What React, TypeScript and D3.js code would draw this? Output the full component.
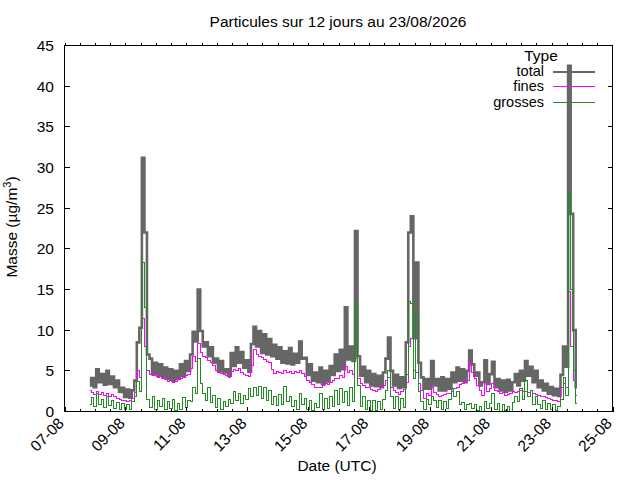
import { useEffect, useRef } from 'react'
import * as d3 from 'd3'

const title = "Particules sur 12 jours au 23/08/2026"
const xLabel = "Date (UTC)"
const legendTitle = "Type"
const seriesNames = ["total", "fines", "grosses"]
const seriesColors = ["#666666", "#ff00ff", "#228b22"]

// first sample 07/08 20:00 UTC, one sample every 2 hours
const startTime = Date.UTC(2026, 7, 7, 20)
const stepHours = 2

const total = [
  3.2, 4.1, 3.0, 5.2, 3.6, 4.6, 3.3, 5.0, 3.4, 4.3, 3.0, 3.8, 2.4, 2.9, 1.8, 2.7, 1.7, 2.6, 3.8, 8.5, 10.3, 31.2, 22.0, 7.0,
  6.5, 4.6, 6.0, 4.4, 5.8, 4.2, 5.4, 4.0, 5.2, 3.8, 5.0, 4.0, 5.8, 4.4, 6.2, 5.0, 7.0, 9.8, 8.6, 15.0, 9.9, 8.0,
  8.5, 6.8, 7.9, 6.0, 6.5, 5.0, 6.2, 4.8, 5.2, 4.4, 7.2, 5.6, 7.9, 6.0, 7.3, 5.4, 6.3, 4.9, 8.3, 10.4, 8.0, 9.9,
  7.2, 9.5, 7.0, 8.9, 6.8, 8.2, 6.5, 7.9, 6.0, 7.4, 5.9, 7.8, 5.8, 7.1, 6.0, 8.6, 6.5, 6.6, 4.5, 5.8, 3.8, 4.8,
  3.6, 5.4, 3.4, 5.0, 3.7, 5.6, 4.5, 7.0, 5.0, 7.6, 5.2, 12.8, 6.4, 8.0, 6.2, 22.2, 6.8, 4.4, 5.5, 3.6, 5.0, 3.2,
  4.6, 3.1, 4.4, 3.0, 4.8, 6.5, 9.1, 5.0, 3.2, 4.5, 2.9, 4.2, 3.0, 8.5, 22.0, 24.0, 9.0, 18.3, 6.0, 4.2, 2.8, 4.0,
  2.8, 6.2, 3.2, 4.0, 2.6, 4.2, 2.6, 4.0, 2.8, 4.8, 3.6, 5.4, 3.8, 5.2, 3.6, 5.0, 7.5, 5.8, 4.4, 4.8, 3.2, 3.6,
  6.3, 3.4, 4.6, 6.1, 3.0, 4.0, 2.6, 3.8, 2.4, 3.9, 2.6, 3.6, 4.6, 3.2, 5.0, 3.8, 6.2, 4.4, 5.5, 3.6, 5.0, 3.0,
  3.8, 2.6, 3.4, 2.2, 3.0, 2.0, 2.8, 1.9, 4.5, 8.0, 5.5, 42.5, 24.3, 10.0, 3.0,
]

const fines = [
  2.6, 2.3, 2.1, 2.4, 2.1, 2.3, 2.0, 2.2, 1.9, 2.1, 1.8, 1.6, 1.5, 1.3, 1.4, 1.2, 1.4, 1.6, 2.3, 5.0, 4.2, 11.4, 8.0, 5.0,
  4.6, 4.4, 4.5, 4.2, 4.3, 4.0, 3.9, 3.7, 3.8, 3.6, 3.7, 3.9, 4.1, 4.2, 4.4, 4.6, 5.3, 6.8, 6.2, 8.4, 7.2, 6.8,
  6.6, 6.3, 6.0, 5.6, 5.0, 4.8, 4.7, 4.6, 4.4, 4.2, 4.9, 5.2, 5.0, 5.3, 4.8, 4.6, 4.4, 4.3, 5.6, 7.6, 7.0, 6.8,
  6.6, 6.4, 6.2, 6.0, 5.2, 4.7, 4.9, 4.8, 4.7, 5.0, 4.8, 4.9, 4.7, 4.9, 4.8, 5.1, 4.7, 4.3, 3.8, 3.6, 3.3, 3.0,
  3.0, 2.9, 3.2, 3.4, 3.3, 3.6, 3.8, 4.0, 4.0, 4.4, 4.2, 5.5, 4.8, 5.0, 4.6, 6.5, 4.0, 3.4, 3.2, 3.0, 2.9, 2.7,
  2.6, 2.5, 2.7, 2.9, 3.2, 3.8, 4.2, 3.0, 2.6, 2.3, 2.1, 2.4, 2.7, 3.6, 8.0, 9.0, 5.0, 4.8, 3.4, 2.6, 1.6, 2.2,
  2.0, 2.9, 2.3, 2.1, 1.9, 2.0, 2.1, 2.2, 2.2, 2.5, 2.8, 2.9, 3.3, 3.5, 3.7, 3.8, 6.0, 4.8, 4.0, 3.2, 2.6, 2.0,
  3.6, 2.5, 2.8, 3.4, 2.6, 2.4, 2.2, 2.3, 2.0, 2.1, 2.2, 2.4, 2.3, 2.5, 2.6, 2.4, 2.5, 2.3, 2.6, 2.2, 2.1, 2.0,
  1.9, 1.8, 1.7, 1.6, 1.5, 1.4, 1.3, 1.2, 2.9, 3.5, 3.0, 14.8, 8.0, 3.8, 2.0,
]

const grosses = [
  0.8, 1.7, 0.6, 2.2, 0.9, 1.5, 0.5, 1.8, 0.7, 1.3, 0.4, 1.1, 0.2, 1.0, 0.3, 0.9, 0.2, 1.2, 1.8, 3.7, 2.5, 18.3, 12.8, 1.5,
  0.5, 1.8, 0.3, 1.4, 0.6, 1.6, 0.2, 1.2, 0.4, 1.5, 0.1, 1.0, 0.3, 1.7, 0.5, 1.4, 1.2, 2.9, 2.2, 6.5, 3.4, 2.2,
  1.4, 3.0, 1.1, 2.0, 0.5, 1.6, 0.3, 1.2, 0.6, 1.5, 1.0, 2.4, 1.3, 2.2, 1.0, 2.0, 1.5, 2.8, 1.8, 3.0, 2.0, 3.1,
  1.6, 2.9, 1.4, 2.6, 0.9, 1.8, 0.7, 2.1, 0.8, 3.1, 1.2, 1.9, 0.6, 1.4, 0.3, 2.2, 0.9, 1.6, 0.2, 1.3, 0.1, 1.0,
  0.5, 2.2, 0.2, 1.6, 0.4, 1.9, 0.6, 2.6, 0.9, 2.8, 1.1, 2.5, 0.7, 2.9, 1.2, 13.4, 3.2, 0.6, 1.8, 0.2, 1.3, 0.1,
  1.4, 0.1, 1.2, 0.3, 1.5, 2.6, 5.0, 1.8, 0.4, 1.9, 0.2, 1.6, 0.5, 4.5, 13.5, 13.3, 4.0, 12.0, 2.5, 1.2, 0.3, 1.5,
  0.9, 1.8, 1.3, 0.5, 1.4, 0.3, 1.2, 0.4, 1.5, 2.8, 1.9, 2.5, 0.8, 1.1, 0.3, 0.9, 1.0, 0.4, 0.8, 0.1, 0.6, 0.0,
  1.2, 0.4, 1.0, 2.2, 0.2, 1.0, 0.0, 0.8, 0.1, 0.6, 0.0, 1.1, 1.8, 1.2, 2.8, 1.5, 3.8, 1.9, 2.6, 0.9, 1.8, 0.8,
  0.4, 1.4, 0.3, 1.0, 0.2, 0.9, 0.1, 0.6, 1.5, 4.2, 2.0, 27.0, 15.0, 5.0, 1.0,
]

const yTicks = [0, 5, 10, 15, 20, 25, 30, 35, 40, 45]

const WIDTH = 640
const HEIGHT = 480
const FONT = "'Liberation Sans', Arial, sans-serif"

export default function App() {
  const svgRef = useRef<SVGSVGElement>(null)

  useEffect(() => {
    if (!svgRef.current) return
    const svg = d3.select(svgRef.current)
    svg.selectAll("*").remove()

    const left = 64.5, right = 612.5, top = 45.5, bottom = 411.5

    const x = d3.scaleUtc()
      .domain([new Date(Date.UTC(2026, 7, 7)), new Date(Date.UTC(2026, 7, 25))])
      .range([left, right])
    const y = d3.scaleLinear().domain([0, 45]).range([bottom, top])

    const times = total.map((_, i) => new Date(startTime + i * stepHours * 3600 * 1000))
    const series = [total, fines, grosses]

    svg.append("rect")
      .attr("width", WIDTH).attr("height", HEIGHT).attr("fill", "white")

    // data, drawn as steps; the thick total line closes up into a band
    series.forEach((values, k) => {
      const line = d3.line<number>()
        .x((_, i) => x(times[i]))
        .y(d => y(d))
        .curve(d3.curveStep)
      svg.append("path")
        .datum(values)
        .attr("d", line)
        .attr("fill", "none")
        .attr("stroke", seriesColors[k])
        .attr("stroke-width", k === 0 ? 2.6 : 1)
        .attr("shape-rendering", k === 0 ? "auto" : "crispEdges")
    })

    // ticks
    const ticks = svg.append("g")
      .attr("stroke", "black").attr("stroke-width", 1)
      .attr("shape-rendering", "crispEdges")

    const majorX = d3.utcDay.range(x.domain()[0], new Date(Date.UTC(2026, 7, 25, 1)))
      .filter(d => (d.getUTCDate() - 7) % 2 === 0)
    const minorX = d3.utcHour.every(12)!.range(x.domain()[0], x.domain()[1])

    minorX.forEach(d => {
      const px = Math.round(x(d)) + 0.5
      ticks.append("line").attr("x1", px).attr("x2", px).attr("y1", bottom).attr("y2", bottom - 3)
      ticks.append("line").attr("x1", px).attr("x2", px).attr("y1", top).attr("y2", top - 3)
    })
    majorX.forEach(d => {
      const px = Math.round(x(d)) + 0.5
      ticks.append("line").attr("x1", px).attr("x2", px).attr("y1", bottom).attr("y2", bottom - 5)
    })
    yTicks.forEach(v => {
      ticks.append("line").attr("x1", left).attr("x2", left + 5).attr("y1", y(v)).attr("y2", y(v))
      ticks.append("line").attr("x1", right).attr("x2", right - 5).attr("y1", y(v)).attr("y2", y(v))
    })

    // border
    svg.append("rect")
      .attr("x", left).attr("y", top)
      .attr("width", right - left).attr("height", bottom - top)
      .attr("fill", "none").attr("stroke", "black").attr("stroke-width", 1)
      .attr("shape-rendering", "crispEdges")

    const text = svg.append("g")
      .attr("font-family", FONT).attr("font-size", 15.5).attr("fill", "black")

    yTicks.forEach(v => {
      text.append("text")
        .attr("x", 54).attr("y", y(v))
        .attr("text-anchor", "end").attr("dominant-baseline", "central")
        .text(v)
    })

    const fmt = d3.utcFormat("%d-%m")
    majorX.forEach(d => {
      text.append("text")
        .attr("transform", `translate(${x(d) - 3.5},420.5) rotate(-45)`)
        .attr("text-anchor", "end").attr("dominant-baseline", "central")
        .text(fmt(d))
    })

    text.append("text")
      .attr("x", 338).attr("y", 27).attr("text-anchor", "middle")
      .text(title)

    text.append("text")
      .attr("x", 337).attr("y", 471).attr("text-anchor", "middle")
      .text(xLabel)

    const yl = text.append("text")
      .attr("transform", "translate(17,227) rotate(-90)")
      .attr("text-anchor", "middle")
    yl.append("tspan").text("Masse (µg/m")
    yl.append("tspan").attr("font-size", 11).attr("dy", -6).text("3")
    yl.append("tspan").attr("dy", 6).text(")")

    // legend
    const legend = svg.append("g")
      .attr("font-family", FONT).attr("font-size", 14.5).attr("fill", "black")
    legend.append("text")
      .attr("x", 541).attr("y", 55).attr("text-anchor", "middle")
      .attr("dominant-baseline", "central")
      .attr("font-size", 15.5)
      .text(legendTitle)
    seriesNames.forEach((name, k) => {
      const ly = 71.5 + k * 15.3
      legend.append("text")
        .attr("x", 544).attr("y", ly - 0.5)
        .attr("text-anchor", "end").attr("dominant-baseline", "central")
        .text(name)
      svg.append("line")
        .attr("x1", 553).attr("x2", 595).attr("y1", ly).attr("y2", ly)
        .attr("stroke", seriesColors[k]).attr("stroke-width", k === 0 ? 2 : 1)
        .attr("shape-rendering", "crispEdges")
    })
  }, [])

  return (
    <svg
      ref={svgRef}
      width={WIDTH}
      height={HEIGHT}
      style={{ position: 'absolute', left: 0, top: 0, display: 'block' }}
    />
  )
}
